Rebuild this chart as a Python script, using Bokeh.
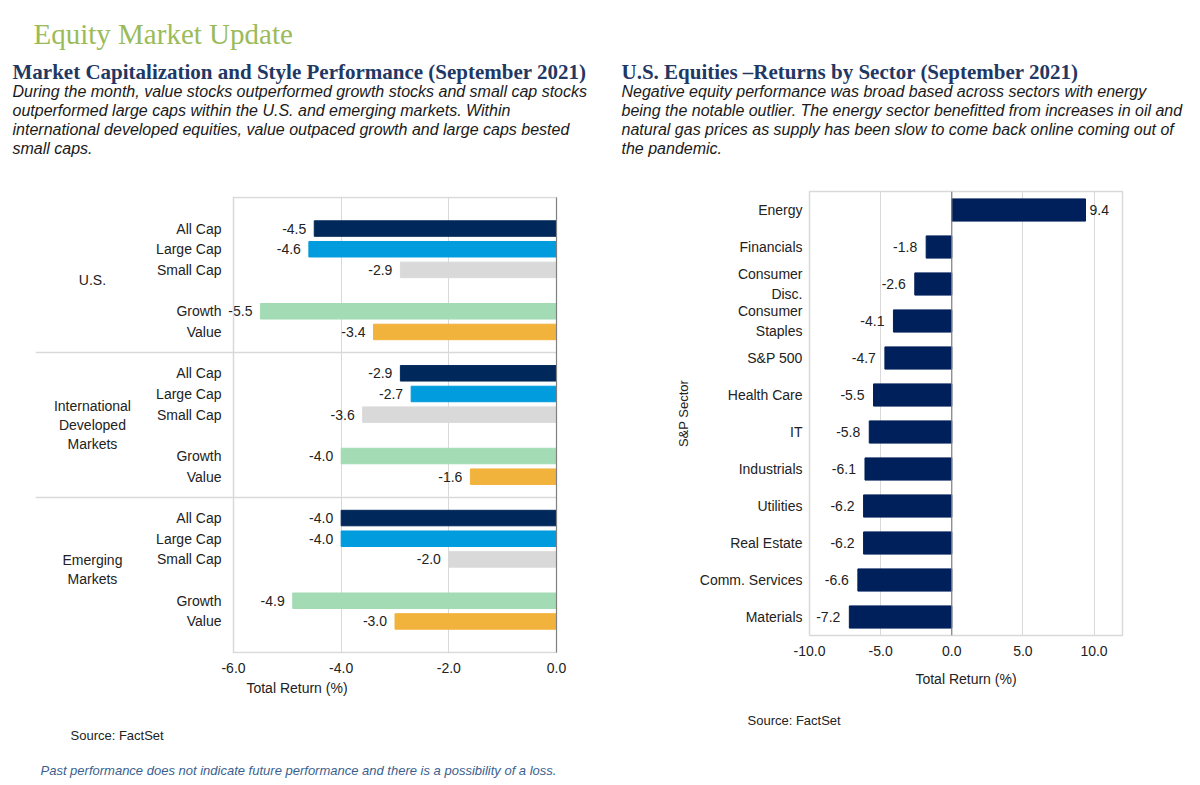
from bokeh.plotting import figure
from bokeh.layouts import column, row
from bokeh.models import (Range1d, FixedTicker, ColumnDataSource, Span,
                          FactorRange, PrintfTickFormatter)
from bokeh.core.properties import value
from bokeh.embed import file_html
from bokeh.resources import INLINE

# ---------------- data ----------------
regions = ["U.S.", "International\nDeveloped\nMarkets", "Emerging\nMarkets"]
styles = ["All Cap", "Large Cap", "Small Cap", "Growth", "Value"]
us_returns = [-4.5, -4.6, -2.9, -5.5, -3.4]
intl_returns = [-2.9, -2.7, -3.6, -4.0, -1.6]
em_returns = [-4.0, -4.0, -2.0, -4.9, -3.0]
style_colors = ["#00285A", "#009CDE", "#D9D9D9", "#A3DBB4", "#F2B33D"]
left_ticks = [-6.0, -4.0, -2.0, 0.0]

sectors = ["Energy", "Financials", "Consumer\nDisc.", "Consumer\nStaples", "S&P 500",
           "Health Care", "IT", "Industrials", "Utilities", "Real Estate",
           "Comm. Services", "Materials"]
sector_returns = [9.4, -1.8, -2.6, -4.1, -4.7, -5.5, -5.8, -6.1, -6.2, -6.2, -6.6, -7.2]
right_ticks = [-10.0, -5.0, 0.0, 5.0, 10.0]

page_title = "Equity Market Update"
left_title = "Market Capitalization and Style Performance (September 2021)"
left_body = ["During the month, value stocks outperformed growth stocks and small cap stocks",
             "outperformed large caps within the U.S. and emerging markets. Within",
             "international developed equities, value outpaced growth and large caps bested",
             "small caps."]
right_title = "U.S. Equities \u2013Returns by Sector (September 2021)"
right_body = ["Negative equity performance was broad based across sectors with energy",
              "being the notable outlier. The energy sector benefitted from increases in oil and",
              "natural gas prices as supply has been slow to come back online coming out of",
              "the pandemic."]
source_text = "Source: FactSet"
disclaimer = "Past performance does not indicate future performance and there is a possibility of a loss."

FONT = value("Liberation Sans")
SERIF = value("Liberation Serif")
TXT = "#222222"
GRID = "#D9D9D9"
W = 1199


def style_axis(ax, standoff, label=None, label_standoff=0, label_size="14px"):
    ax.axis_line_color = None
    ax.major_tick_line_color = None
    ax.minor_tick_line_color = None
    ax.major_tick_out = 0
    ax.major_tick_in = 0
    ax.minor_tick_out = 0
    ax.minor_tick_in = 0
    ax.major_label_standoff = standoff
    ax.major_label_text_font = "Liberation Sans"
    ax.major_label_text_font_size = "14px"
    ax.major_label_text_color = TXT
    if label:
        ax.axis_label = label
        ax.axis_label_standoff = label_standoff
        ax.axis_label_text_font = "Liberation Sans"
        ax.axis_label_text_font_size = label_size
        ax.axis_label_text_font_style = "normal"
        ax.axis_label_text_color = TXT


# ---------------- header ----------------
ph = figure(width=W, height=160, x_range=Range1d(0, W), y_range=Range1d(160, 0),
            x_axis_type=None, y_axis_type=None, min_border=0, output_backend="svg",
            toolbar_location=None, outline_line_color=None)
ph.grid.visible = False
ph.text(x=[33], y=[33], text=[page_title], text_font=SERIF, text_font_size="29px",
        text_color="#9BBB59", text_baseline="alphabetic")
ph.text(x=[12, 621], y=[71, 71], text=[left_title, right_title], text_font=SERIF,
        text_font_size="21px", text_font_style="bold", text_color="#1F3864",
        text_baseline="middle")
line_y = [91, 110, 129, 148]
ph.text(x=[12] * 4 + [621] * 4, y=line_y + line_y, text=left_body + right_body,
        text_font=FONT, text_font_size="16px", text_font_style="italic",
        text_color="#1A1A1A", text_baseline="middle")

# ---------------- left chart ----------------
SLOT = [1.5, 2.5, 3.5, 5.5, 6.5]
GROUP = 7
ys, vs, cs = [], [], []
for g, vals in enumerate([us_returns, intl_returns, em_returns]):
    for s, v in enumerate(vals):
        ys.append(SLOT[s] + GROUP * g)
        vs.append(v)
        cs.append(style_colors[s])
lsrc = ColumnDataSource(dict(y=ys, v=vs, color=cs, label=[f"{v:.1f}" for v in vs]))
n_rows = GROUP * len(regions) + 1
X0 = -9.678

CH = 553
pl = figure(width=600, height=CH, x_range=Range1d(X0, 0.037),
            y_range=Range1d(n_rows + 0.05, -0.05), output_backend="svg",
            toolbar_location=None, min_border_left=35, min_border_right=42,
            min_border_top=36, min_border_bottom=CH - 36 - 457, outline_line_color=None)
pl.ygrid.visible = False
pl.xgrid.ticker = FixedTicker(ticks=left_ticks)
pl.xgrid.grid_line_color = GRID

pl.hbar(y="y", left=0, right="v", height=0.75, color="color", source=lsrc)
pl.text(x="v", y="y", text="label", source=lsrc, x_offset=-8, text_align="right",
        text_baseline="middle", text_font=FONT, text_font_size="14px", text_color=TXT)

# separators and frame borders
sep_y = [GROUP * (g + 1) + 0.5 for g in range(len(regions) - 1)]
pl.segment(x0=[X0] * len(sep_y), x1=[0] * len(sep_y), y0=sep_y, y1=sep_y,
           line_color=GRID, line_width=1.5)
pl.segment(x0=[left_ticks[0]] * 2, x1=[0, 0], y0=[0, n_rows], y1=[0, n_rows],
           line_color=GRID, line_width=1.5)
pl.segment(x0=[0], x1=[0], y0=[0], y1=[n_rows], line_color="#808080", line_width=1.2)

# group labels
pl.text(x=[-8.62] * len(regions), y=[GROUP * g + 4.0 for g in range(len(regions))],
        text=regions, text_align="center", text_baseline="middle", text_font=FONT,
        text_font_size="14px", text_color=TXT, text_line_height=1.2)

yax = pl.yaxis[0]
style_axis(yax, 12)
yax.fixed_location = left_ticks[0]
yax.ticker = FixedTicker(ticks=ys)
yax.major_label_overrides = {y: styles[i % len(styles)] for i, y in enumerate(ys)}
yax.axis_line_color = GRID
yax.axis_line_width = 1.5

xax = pl.xaxis[0]
style_axis(xax, 9, "Total Return (%)", 4)
xax.ticker = FixedTicker(ticks=left_ticks)
xax.formatter = PrintfTickFormatter(format="%.1f")

# ---------------- right chart ----------------
pr = figure(width=599, height=CH, x_range=Range1d(-10, 12),
            y_range=FactorRange(factors=list(reversed(sectors))), output_backend="svg",
            toolbar_location=None, min_border_left=209, min_border_right=77,
            min_border_top=31, min_border_bottom=CH - 31 - 444, outline_line_color=GRID,
            outline_line_width=1.5)
pr.ygrid.visible = False
pr.xgrid.ticker = FixedTicker(ticks=right_ticks)
pr.xgrid.grid_line_color = GRID

rsrc = ColumnDataSource(dict(y=sectors, v=sector_returns))
pr.hbar(y="y", left=0, right="v", height=0.6, color="#00205B", source=rsrc)
pr.add_layout(Span(location=0, dimension="height", line_color="#808080", line_width=1.2))

pos = [(s, v) for s, v in zip(sectors, sector_returns) if v >= 0]
neg = [(s, v) for s, v in zip(sectors, sector_returns) if v < 0]
pr.text(x=[v for _, v in pos], y=[s for s, _ in pos], text=[f"{v:.1f}" for _, v in pos],
        x_offset=4, text_align="left", text_baseline="middle", text_font=FONT,
        text_font_size="14px", text_color=TXT)
pr.text(x=[v for _, v in neg], y=[s for s, _ in neg], text=[f"{v:.1f}" for _, v in neg],
        x_offset=-9, text_align="right", text_baseline="middle", text_font=FONT,
        text_font_size="14px", text_color=TXT)

style_axis(pr.yaxis[0], 7, "S&P Sector", 6, "13px")
rxax = pr.xaxis[0]
style_axis(rxax, 10, "Total Return (%)", 12)
rxax.ticker = FixedTicker(ticks=right_ticks)
rxax.formatter = PrintfTickFormatter(format="%.1f")

# keep each chart's frame where it is (no frame alignment across the row)
for f in (pl, pr):
    try:
        f.frame_align = False
    except Exception:
        pass

# ---------------- footer ----------------
FT = 160 + CH
pf = figure(width=W, height=784 - FT, x_range=Range1d(0, W), y_range=Range1d(784, FT),
            x_axis_type=None, y_axis_type=None, min_border=0, output_backend="svg",
            toolbar_location=None, outline_line_color=None)
pf.grid.visible = False
pf.text(x=[70, 747], y=[735, 720], text=[source_text, source_text], text_font=FONT,
        text_font_size="13px", text_color=TXT, text_baseline="middle")
pf.text(x=[40], y=[770], text=[disclaimer], text_font=FONT, text_font_size="13px",
        text_font_style="italic", text_color="#3A5F8F", text_baseline="middle")

layout = column(ph, row(pl, pr), pf)
open("out.html", "w").write(file_html(layout, INLINE))
